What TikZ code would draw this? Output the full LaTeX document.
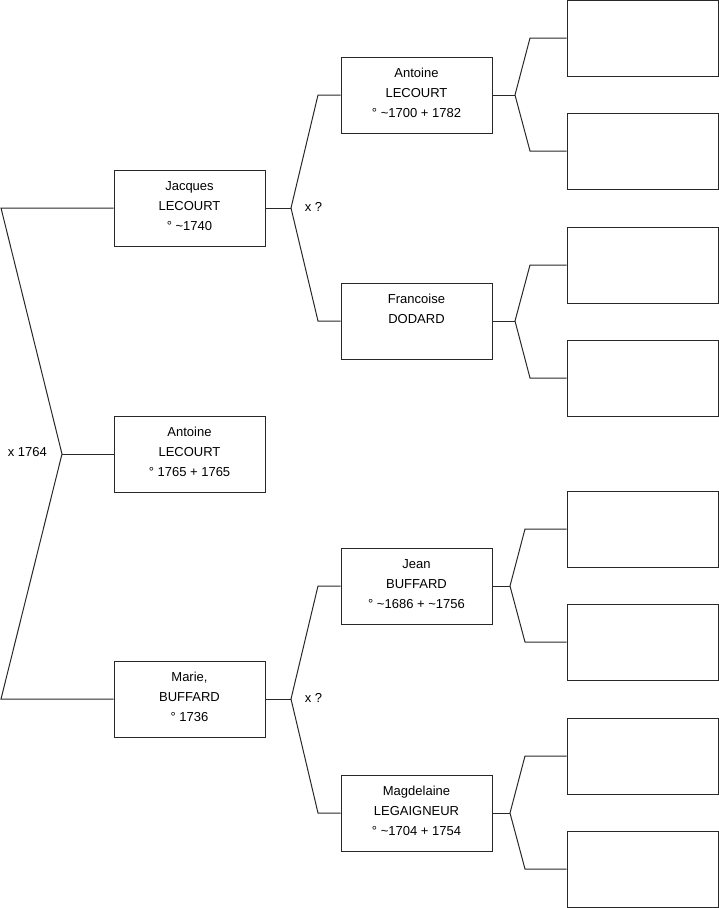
\documentclass[tikz,border=0pt]{standalone}
\usepackage{fontspec}
\setmainfont{Liberation Sans}
\usetikzlibrary{positioning}
\definecolor{linegray}{RGB}{40,40,40}
\newcommand{\ca}{\textasciitilde}

\begin{document}
\begin{tikzpicture}[x=1pt,y=-1pt,line width=1pt,draw=linegray,
    every node/.style={font=\fontsize{13}{20}\selectfont}]

  \useasboundingbox (0,0) rectangle (719,908);

  \tikzset{person/.style={draw=linegray,minimum width=151pt,minimum height=76pt,
      inner sep=0pt,align=center,text depth=4pt}}

  % ── generation 1 ─────────────────────────────────────────────────
  \node[person] (jacques) at (189.5,208) {Jacques\\LECOURT\\° \ca1740};
  \node[person] (antoine) at (189.5,454) {Antoine\\LECOURT\\° 1765 + 1765};
  \node[person] (marie)   at (189.5,699) {Marie,\\BUFFARD\\° 1736};

  % ── generation 2 ─────────────────────────────────────────────────
  \node[person] (antoineL) at (416.5,95)  {Antoine\\LECOURT\\° \ca1700 + 1782};
  \node[person] (francoise) at (416.5,321) {Francoise\\DODARD\\\mbox{}};
  \node[person] (jean)     at (416.5,586) {Jean\\BUFFARD\\° \ca1686 + \ca1756};
  \node[person] (magd)     at (416.5,813) {Magdelaine\\LEGAIGNEUR\\° \ca1704 + 1754};

  % ── generation 3 (empty) ─────────────────────────────────────────
  \foreach \i/\yy in {1/38,2/151,3/265,4/378,5/529,6/642,7/756,8/869}
    \node[person] (g\i) at (642.5,\yy) {};

  % parents of Antoine
  \coordinate (pm) at (62,454);
  \coordinate (pt) at (1,208);
  \coordinate (pb) at (1,699);
  \draw (jacques.west) -- (pt) -- (pm) -- (pb) -- (marie.west);
  \draw (pm) -- (antoine.west);
  \node[anchor=west] (mar0) at (4,452) {x 1764};

  % parents of Jacques
  \coordinate (jx) at (291,208);
  \coordinate (jxa) at (318,95);
  \coordinate (jxb) at (318,321);
  \draw (jacques.east) -- (jx);
  \draw (antoineL.west) -- (jxa) -- (jx) -- (jxb) -- (francoise.west);
  \node[anchor=west] (mar1) at (301,207) {x ?};

  % parents of Marie
  \coordinate (mx) at (291,699);
  \coordinate (mxa) at (318,586);
  \coordinate (mxb) at (318,813);
  \draw (marie.east) -- (mx);
  \draw (jean.west) -- (mxa) -- (mx) -- (mxb) -- (magd.west);
  \node[anchor=west] (mar2) at (301,698) {x ?};

  % generation 3 links
  \coordinate (ax) at (515,95);
  \draw (antoineL.east) -- (ax);
  \draw (g1.west) -- (530,38) -- (ax) -- (530,151) -- (g2.west);

  \coordinate (fx) at (515,321);
  \draw (francoise.east) -- (fx);
  \draw (g3.west) -- (530,265) -- (fx) -- (530,378) -- (g4.west);

  \coordinate (bx) at (510,586);
  \draw (jean.east) -- (bx);
  \draw (g5.west) -- (525,529) -- (bx) -- (525,642) -- (g6.west);

  \coordinate (lx) at (510,813);
  \draw (magd.east) -- (lx);
  \draw (g7.west) -- (525,756) -- (lx) -- (525,869) -- (g8.west);

\end{tikzpicture}
\end{document}
